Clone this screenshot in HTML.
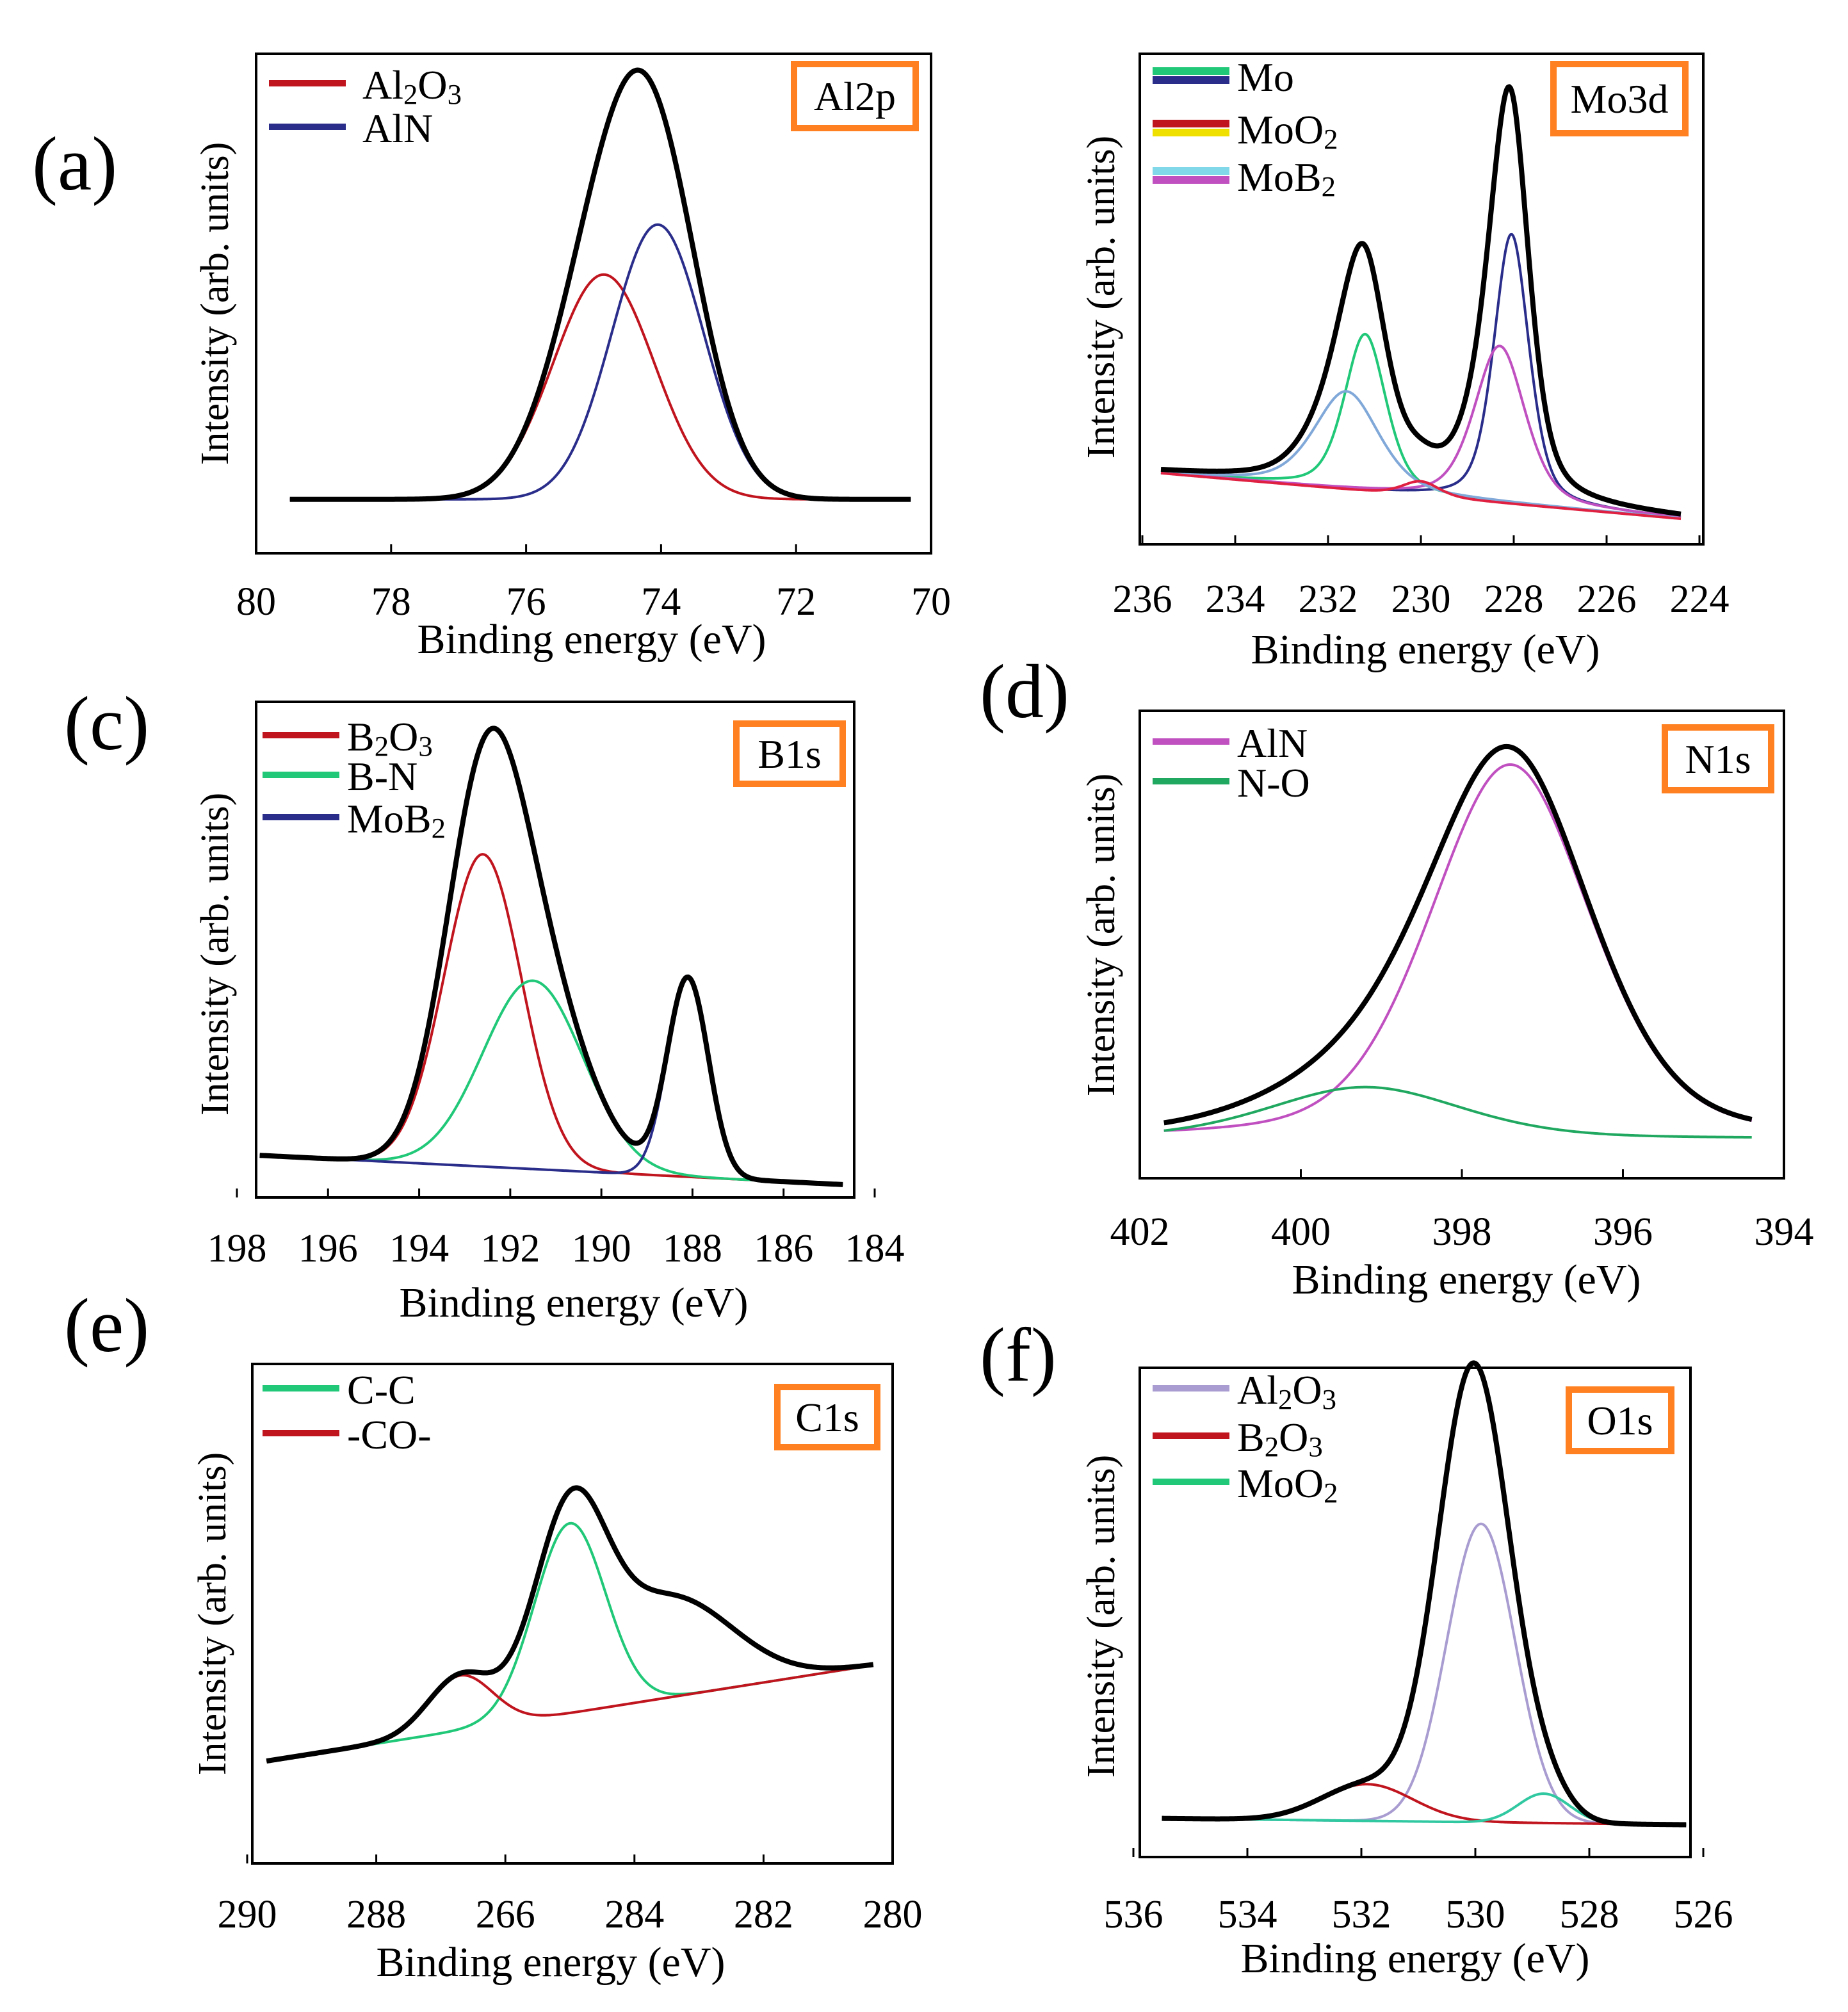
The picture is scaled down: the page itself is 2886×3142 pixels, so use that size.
<!DOCTYPE html>
<html><head><meta charset="utf-8"><style>
html,body{margin:0;padding:0;background:#fff;}
svg{display:block;font-family:"Liberation Serif",serif;}
svg text{font-family:"Liberation Serif",serif;}
</style></head><body>
<svg id="fig" width="2886" height="3142" viewBox="0 0 1443 1571" xmlns="http://www.w3.org/2000/svg"></svg>
<script>
// ---- data: peak fit components (center eV, height, sigma) per panel ----
const aCenters=[74.85,74.05]; const aHeights=[45,55]; const aSigmas=[0.75,0.68];
const aColors=["#c0141e","#2a2d8a"]; const aLegend=["Al2O3","AlN"];
const bCenters=[228.05,231.2,228.3,231.6,230.0]; const bHeights=[55,32,32,20,3]; const bSigmas=[0.38,0.45,0.55,0.7,0.4];
const bColors=["#2a2d8a","#20c878","#c050c0","#80a8d8","#e02040"];
const cCenters=[192.6,191.5,188.1]; const cHeights=[63,38,40]; const cSigmas=[0.85,1.1,0.45];
const cColors=["#c0141e","#20c878","#2a2d8a"]; const cLegend=["B2O3","B-N","MoB2"];
const dCenters=[397.4,399.2]; const dHeights=[80,11]; const dSigmas=[1.0,1.2];
const dColors=["#c050c0","#20a860"]; const dLegend=["AlN","N-O"];
const eCenters=[285.0,286.7,283.5]; const eHeights=[38,11,20]; const eSigmas=[0.55,0.5,1.0];
const eColors=["#20c878","#c0141e",null]; const eLegend=["C-C","-CO-"];
const fCenters=[529.9,531.9,528.8,530.25]; const fHeights=[61,7.5,6,36]; const fSigmas=[0.6,0.8,0.45,0.6];
const fColors=["#a89cd0","#c0141e","#30c8a0",null]; const fLegend=["Al2O3","B2O3","MoO2"];
const aTicks=[80,78,76,74,72,70]; const bTicks=[236,234,232,230,228,226,224];
const cTicks=[198,196,194,192,190,188,186,184]; const dTicks=[402,400,398,396,394];
const eTicks=[290,288,266,284,282,280]; const fTicks=[536,534,532,530,528,526];
const eTickVals=[290,288,286,284,282,280];

const NS="http://www.w3.org/2000/svg";
const svg=document.getElementById('fig');
function mk(tag,attrs,parent){const e=document.createElementNS(NS,tag);for(const k in attrs)e.setAttribute(k,attrs[k]);(parent||svg).appendChild(e);return e;}
function txt(s,x,y,size,anchor,parent,name){const t=mk('text',{x:x,y:y,'font-size':size,'text-anchor':anchor||'start',fill:'#000','font-family':'Liberation Serif, serif'},parent);
 
 
 if(name==='legend-entry'&&/\d/.test(s)){
  s.split(/(\d)/).forEach(p=>{if(!p)return;const ts=mk('tspan',{},t);ts.textContent=p;if(/\d/.test(p)){ts.setAttribute('font-size',size*0.7);ts.setAttribute('baseline-shift','-18%');}});
 } else t.textContent=s;
 return t;}

function panel(p){
 const g=mk('g',{});
 
 
 const X=v=>p.px0+(p.d0-v)/(p.d0-p.d1)*(p.px1-p.px0);
 const Y=v=>p.by1-v/100*(p.by1-p.by0);
 const base=v=>p.b0+(p.e0-v)/(p.e0-p.e1)*(p.b1-p.b0);
 const box=mk('rect',{x:p.bx0,y:p.by0,width:p.bx1-p.bx0,height:p.by1-p.by0,fill:'none',stroke:'#000','stroke-width':2},g);
 
 
 p.ticks.forEach((t,i)=>{const v=p.tickVals?p.tickVals[i]:t;const x=X(v);
  const tk=mk('line',{x1:x,x2:x,y1:p.by1,y2:p.by1-7,stroke:'#000','stroke-width':1.5},g);
  
  
  txt(String(t),x,p.tickY,31,'middle',g,'x-tick-label');});
 txt('Binding energy (eV)',p.xlx,p.xly,33,'middle',g,'x-axis-title');
 const yl=txt('Intensity (arb. units)',0,0,31,'middle',g,'y-axis-title');
 yl.setAttribute('transform','translate('+p.ylx+','+p.yly+') rotate(-90)');
 if(p.tag) txt(p.tag,p.tagX,p.tagY,60,'start',g,'panel-letter');
 const N=400; const m=p.mix||0;
 function curve(fn,color,w,name){let d='';for(let i=0;i<=N;i++){const v=p.e0+(p.e1-p.e0)*i/N;d+=(i?'L':'M')+X(v).toFixed(2)+','+Y(fn(v)).toFixed(2);}
  const path=mk('path',{d:d,fill:'none',stroke:color,'stroke-width':w,'stroke-linejoin':'round'},g);
  
  }
 const pk=(i,v)=>{const dx=v-p.c[i],s=p.s[i];const G=Math.exp(-dx*dx/(2*s*s));const gam=s*1.1774;const L=1/(1+dx*dx/(gam*gam));return p.h[i]*((1-m)*G+m*L);};
 p.c.forEach((c,i)=>{if(p.col[i]) curve(v=>base(v)+pk(i,v),p.col[i],2,'component-'+i);});
 curve(v=>{let s=base(v);p.c.forEach((c,i)=>s+=pk(i,v));return s;},'#000',4,'envelope-curve');
 p.leg.forEach((L,i)=>{const y=p.legY[i];
  L.cols.forEach((col,j)=>{const yy=y-3+j*7-(L.cols.length-1)*3.5;const ln=mk('line',{x1:p.legX,x2:p.legX+60,y1:yy,y2:yy,stroke:col,'stroke-width':L.cols.length>1?6:5},g);
   
   });
  txt(L.t,p.legX+(p.legTx||66),y+9,32,'start',g,'legend-entry');});
 const ob=mk('rect',{x:p.ob[0],y:p.ob[1],width:p.ob[2],height:p.ob[3],fill:'#fff',stroke:'#ff8020','stroke-width':5},g);
 
 
 txt(p.obt,p.ob[0]+p.ob[2]/2,p.ob[1]+p.ob[3]/2+11,32,'middle',g,'core-level-label');
}

panel({id:'a',d0:80,d1:70,px0:200,px1:727,bx0:200,bx1:727,by0:42,by1:432,e0:79.5,e1:70.3,b0:10.8,b1:10.8,
 c:aCenters,h:aHeights,s:aSigmas,col:aColors,ticks:aTicks,tickY:480,xlx:462,xly:510,ylx:178,yly:237,tag:'(a)',tagX:25,tagY:148,
 leg:[{t:aLegend[0],cols:[aColors[0]]},{t:aLegend[1],cols:[aColors[1]]}],legX:210,legY:[68,102],legTx:73,ob:[620,50,95,50],obt:'Al2p'});
panel({id:'b',mix:0.45,d0:236,d1:224,px0:892,px1:1327,bx0:890,bx1:1330,by0:42,by1:425,e0:235.6,e1:224.4,b0:14.5,b1:5.2,
 c:bCenters,h:bHeights,s:bSigmas,col:bColors,ticks:bTicks,tickY:478,xlx:1113,xly:518,ylx:870,yly:232,
 leg:[{t:'Mo',cols:['#20c878','#2a2d8a']},{t:'MoO2',cols:['#c0141e','#f0e000']},{t:'MoB2',cols:['#80d8e8','#c050c0']}],legX:900,legY:[62,103,140],ob:[1213,50,103,54],obt:'Mo3d'});
panel({id:'c',d0:198,d1:184,px0:185,px1:683,bx0:200,bx1:667,by0:548,by1:935,e0:197.5,e1:184.7,b0:8.5,b1:2.6,
 c:cCenters,h:cHeights,s:cSigmas,col:cColors,ticks:cTicks,tickY:985,xlx:448,xly:1028,ylx:178,yly:745,tag:'(c)',tagX:50,tagY:585,
 leg:[{t:cLegend[0],cols:[cColors[0]]},{t:cLegend[1],cols:[cColors[1]]},{t:cLegend[2],cols:[cColors[2]]}],legX:205,legY:[577,608,641],ob:[575,565,83,47],obt:'B1s'});
panel({id:'d',mix:0.3,d0:402,d1:394,px0:890,px1:1393,bx0:890,bx1:1393,by0:555,by1:920,e0:401.7,e1:394.4,b0:8.5,b1:8.5,
 c:dCenters,h:dHeights,s:dSigmas,col:dColors,ticks:dTicks,tickY:972,xlx:1145,xly:1010,ylx:870,yly:730,tag:'(d)',tagX:765,tagY:560,
 leg:[{t:dLegend[0],cols:[dColors[0]]},{t:dLegend[1],cols:[dColors[1]]}],legX:900,legY:[582,613],ob:[1300,568,83,49],obt:'N1s'});
panel({id:'e',d0:290,d1:280,px0:193,px1:697,bx0:197,bx1:697,by0:1065,by1:1455,e0:289.7,e1:280.3,b0:20.5,b1:39.7,
 c:eCenters,h:eHeights,s:eSigmas,col:eColors,ticks:eTicks,tickVals:eTickVals,tickY:1505,xlx:430,xly:1543,ylx:176,yly:1260,tag:'(e)',tagX:50,tagY:1055,
 leg:[{t:eLegend[0],cols:[eColors[0]]},{t:eLegend[1],cols:[eColors[1]]}],legX:205,legY:[1087,1122],ob:[607,1083,78,47],obt:'C1s'});
panel({id:'f',d0:536,d1:526,px0:885,px1:1330,bx0:890,bx1:1320,by0:1068,by1:1450,e0:535.5,e1:526.3,b0:7.9,b1:6.6,
 c:fCenters,h:fHeights,s:fSigmas,col:fColors,ticks:fTicks,tickY:1505,xlx:1105,xly:1540,ylx:870,yly:1262,tag:'(f)',tagX:765,tagY:1078,
 leg:[{t:fLegend[0],cols:[fColors[0]]},{t:fLegend[1],cols:[fColors[1]]},{t:fLegend[2],cols:['#20c878']}],legX:900,legY:[1087,1124,1160],ob:[1225,1085,80,48],obt:'O1s'});
</script>
</body></html>
